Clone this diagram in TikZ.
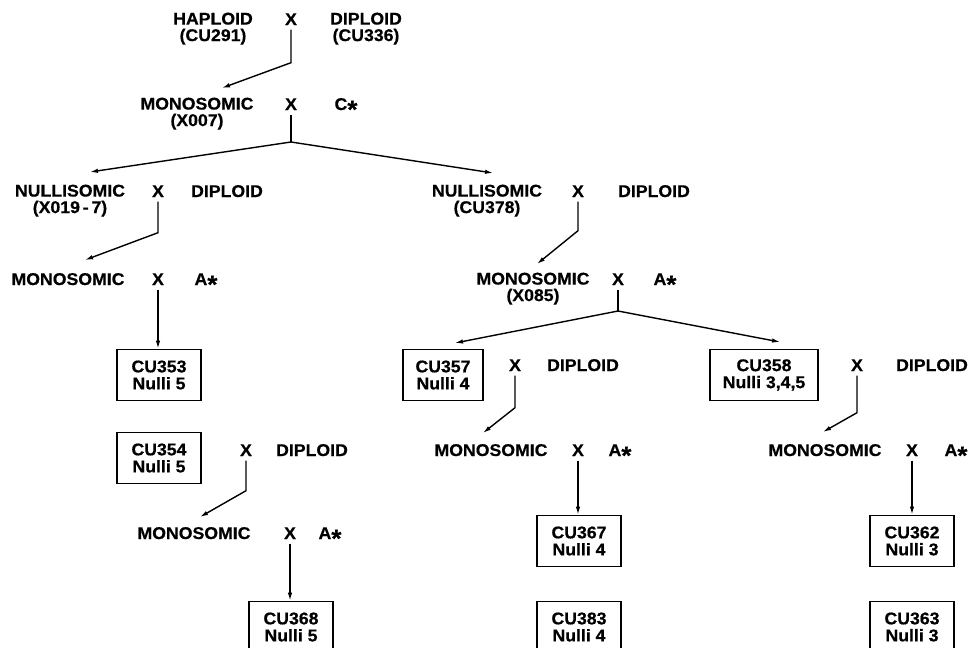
\documentclass[tikz,border=0pt]{standalone}
\usepackage{fontspec}
\setmainfont{Liberation Sans}[FakeStretch=1.04, BoldFeatures={FakeStretch=1.04, FakeBold=0.5}]
\usetikzlibrary{arrows.meta}

\newcommand{\sstar}{\raisebox{-8pt}{\fontsize{25}{25}\selectfont *}}

\tikzset {
    lbl/.style={inner sep=0pt, anchor=base, font=\fontsize{17}{16}\selectfont\bfseries},
    lbltwo/.style={inner sep=0pt, anchor=north, align=center, font=\fontsize{17}{16.5}\selectfont\bfseries},
    cross/.style={inner sep=4pt, anchor=base, font=\fontsize{17}{16}\selectfont\bfseries},
    strain/.style={rectangle, draw=black, line width=1.6pt, minimum width=84pt, minimum height=51pt, inner sep=0pt, align=center, font=\fontsize{17}{17}\selectfont\bfseries},
    arr/.style={->, >={Latex[length=8pt, width=4.5pt]}},
}

\begin{document}
\begin{tikzpicture}[x=1pt, y=-1pt, line width=1.4pt]
    \useasboundingbox (0,0) rectangle (970,648);
    % haploid x diploid
    \node (hap) at (213, 12) [lbltwo] {HAPLOID\\(CU291)};
    \node (xa) at (291, 25) [cross] {X};
    \node (dipa) at (366, 12) [lbltwo] {DIPLOID\\(CU336)};
    \coordinate (ta) at (222, 88);
    \draw [arr] (xa.south) -- ++(0, 33) -- (ta);
    \node (monoa) at (197, 97) [lbltwo] {MONOSOMIC\\(X007)};
    \node (xb) at (291, 110) [cross] {X};
    \node (cstar) at (346, 110) [lbl] {C\sstar};
    \coordinate (jb) at (291, 142);
    \coordinate (tbl) at (90, 172);
    \coordinate (tbr) at (493, 173);
    \draw (xb.south) -- (jb);
    \draw [arr] (jb) -- (tbl);
    \draw [arr] (jb) -- (tbr);
    % left branch
    \node (nulla) at (70, 184) [lbltwo] {NULLISOMIC\\(X019\,-\,7)};
    \node (xc) at (158, 197) [cross] {X};
    \node (dipc) at (227, 197) [lbl] {DIPLOID};
    \coordinate (tc) at (85, 260);
    \draw [arr] (xc.south) -- ++(0, 31) -- (tc);
    \node (monoc) at (68, 285) [lbl] {MONOSOMIC};
    \node (xd) at (158, 285) [cross] {X};
    \node (astard) at (206, 285) [lbl] {A\sstar};
    \node (box353) at (159, 375) [strain] {CU353\\Nulli 5};
    \draw [arr] (xd.south) -- (xd.south |- box353.north);
    \node (box354) at (159, 458) [strain] {CU354\\Nulli 5};
    \node (xe) at (246, 456) [cross] {X};
    \node (dipe) at (312, 456) [lbl] {DIPLOID};
    \coordinate (te) at (200, 517);
    \draw [arr] (xe.south) -- ++(0, 30) -- (te);
    \node (monoe) at (194, 539) [lbl] {MONOSOMIC};
    \node (xf) at (290, 539) [cross] {X};
    \node (astarf) at (330, 539) [lbl] {A\sstar};
    \node (box368) at (291, 627) [strain] {CU368\\Nulli 5};
    \draw [arr] (xf.south) -- (xf.south |- box368.north);
    % middle branch
    \node (nullb) at (487, 184) [lbltwo] {NULLISOMIC\\(CU378)};
    \node (xg) at (578, 197) [cross] {X};
    \node (dipg) at (654, 197) [lbl] {DIPLOID};
    \coordinate (tg) at (537, 264);
    \draw [arr] (xg.south) -- ++(0, 29) -- (tg);
    \node (monob) at (533, 272) [lbltwo] {MONOSOMIC\\(X085)};
    \node (xh) at (618, 285) [cross] {X};
    \node (astarh) at (665, 285) [lbl] {A\sstar};
    \coordinate (jh) at (618, 311);
    \coordinate (thl) at (455, 343);
    \coordinate (thr) at (780, 342);
    \draw (xh.south) -- (jh);
    \draw [arr] (jh) -- (thl);
    \draw [arr] (jh) -- (thr);
    \node (box357) at (443, 375) [strain, minimum width=80pt] {CU357\\Nulli 4};
    \node (xi) at (515, 371) [cross] {X};
    \node (dipi) at (583, 371) [lbl] {DIPLOID};
    \coordinate (ti) at (483, 433);
    \draw [arr] (xi.south) -- ++(0, 32) -- (ti);
    \node (monoi) at (491, 456) [lbl] {MONOSOMIC};
    \node (xj) at (578, 456) [cross] {X};
    \node (astarj) at (620, 456) [lbl] {A\sstar};
    \node (box367) at (579, 541) [strain] {CU367\\Nulli 4};
    \node (box383) at (579, 627) [strain] {CU383\\Nulli 4};
    \draw [arr] (xj.south) -- (xj.south |- box367.north);
    % right branch
    \node (box358) at (764, 375) [strain, minimum width=108pt] {CU358\\Nulli 3,4,5};
    \node (xk) at (857, 371) [cross] {X};
    \node (dipk) at (932, 371) [lbl] {DIPLOID};
    \coordinate (tk) at (823, 432);
    \draw [arr] (xk.south) -- ++(0, 37) -- (tk);
    \node (monok) at (825, 456) [lbl] {MONOSOMIC};
    \node (xl) at (912, 456) [cross] {X};
    \node (astarl) at (956, 456) [lbl] {A\sstar};
    \node (box362) at (912, 541) [strain] {CU362\\Nulli 3};
    \node (box363) at (912, 627) [strain] {CU363\\Nulli 3};
    \draw [arr] (xl.south) -- (xl.south |- box362.north);
\end{tikzpicture}
\end{document}
